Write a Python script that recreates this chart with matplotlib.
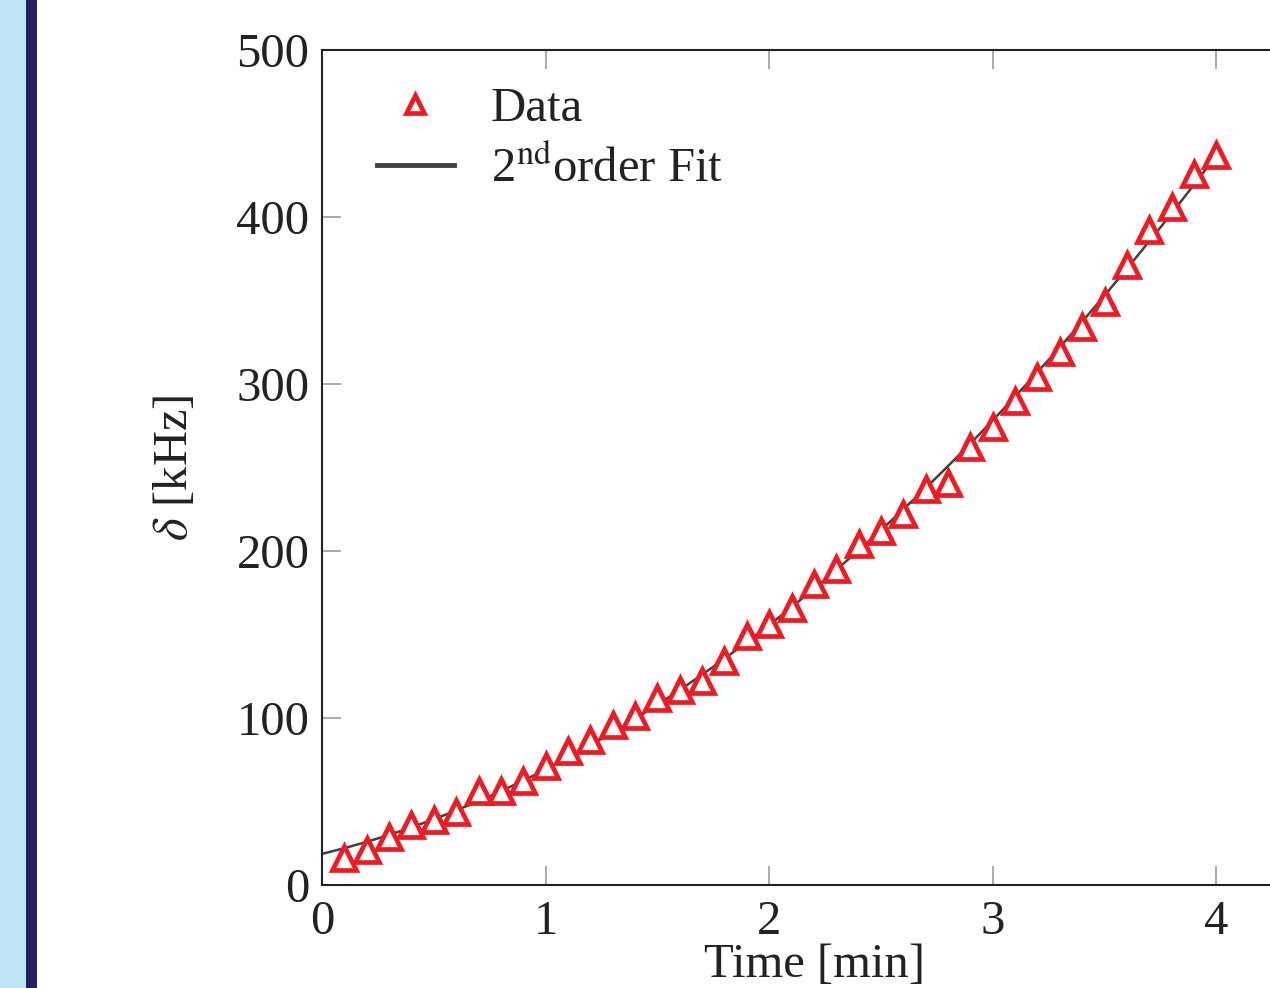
import numpy as np
import matplotlib
matplotlib.use('Agg')
import matplotlib.pyplot as plt
from matplotlib.patches import Rectangle


# time [min] and measured detuning delta [kHz]
time_min = [0.1, 0.2, 0.3, 0.4, 0.5, 0.6, 0.7, 0.8, 0.9, 1.0,
            1.1, 1.2, 1.3, 1.4, 1.5, 1.6, 1.7, 1.8, 1.9, 2.0,
            2.1, 2.2, 2.3, 2.4, 2.5, 2.6, 2.7, 2.8, 2.9, 3.0,
            3.1, 3.2, 3.3, 3.4, 3.5, 3.6, 3.7, 3.8, 3.9, 4.0]
delta_khz = [16, 21, 29, 36, 39, 44, 56, 56, 62, 71,
             80, 87, 96, 101, 112, 117, 122, 134, 149, 156,
             166, 180, 189, 204, 212, 222, 237, 241, 262, 274,
             290, 304, 319, 334, 349, 371, 392, 406, 426, 437]

x_ticks = [0, 1, 2, 3, 4]
y_ticks = [0, 100, 200, 300, 400, 500]

plt.rcParams['font.family'] = ['Liberation Serif', 'DejaVu Serif']
plt.rcParams['mathtext.fontset'] = 'stix'

fig = plt.figure(figsize=(12.7, 9.88), dpi=100)

# decorative side band of the slide
fig.patches.append(Rectangle((0, 0), 26 / 1270, 1, transform=fig.transFigure,
                             facecolor='#bfe4f5', edgecolor='none', zorder=0))
fig.patches.append(Rectangle((26 / 1270, 0), 11 / 1270, 1, transform=fig.transFigure,
                             facecolor='#252061', edgecolor='none', zorder=0))

ax = fig.add_axes([322 / 1270, 103 / 988, 986 / 1270, 835 / 988])

# 2nd order polynomial fit of the data
coef = np.polyfit(time_min, delta_khz, 2)
t_fit = np.linspace(0, 4.0, 200)
ax.plot(t_fit, np.polyval(coef, t_fit), color='#404040', lw=1.8,
        label='2$^{\\rm nd}$order Fit', zorder=2)
ax.plot(time_min, delta_khz, linestyle='none', marker='^', markersize=17,
        markerfacecolor='white', markeredgecolor='#ed1c24', markeredgewidth=3.4,
        label='Data', zorder=3)

ax.set_xlim(0, 4.41)
ax.set_ylim(0, 500)
ax.set_xticks(x_ticks)
ax.set_yticks(y_ticks)

ax.tick_params(direction='in', length=14, width=1.2, color='#999999',
               labelsize=35, pad=9, top=True, right=True, labelcolor='#222222')
ax.tick_params(axis='x', pad=11)
for s in ax.spines.values():
    s.set_color('#222222')
    s.set_linewidth(1.5)

ax.set_xlabel('Time [min]', fontsize=35, color='#222222', labelpad=-1)
ax.set_ylabel('$\\delta$ [kHz]', fontsize=35, color='#222222', labelpad=28)

handles, labels = ax.get_legend_handles_labels()
leg = ax.legend(handles[::-1], labels[::-1], loc='upper left',
                bbox_to_anchor=(0.011, 1.008), frameon=False, fontsize=35,
                handlelength=1.6, handletextpad=0.75, labelspacing=0.3,
                markerscale=0.8)
leg.get_lines()[1].set_linewidth(3.5)
for t in leg.get_texts():
    t.set_color('#222222')

fig.savefig('out.png', dpi=100)
